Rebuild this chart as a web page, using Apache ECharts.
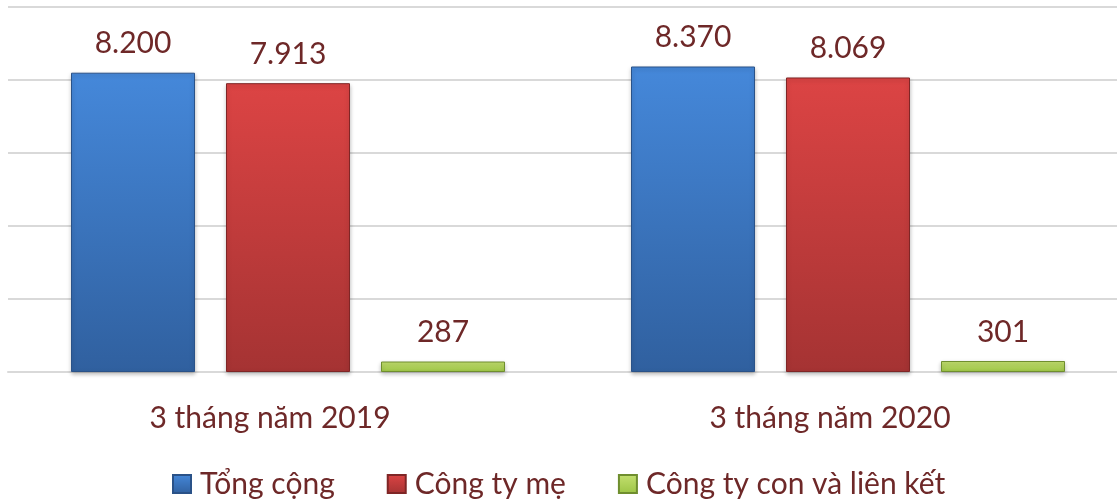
<!DOCTYPE html>
<html><head><meta charset="utf-8">
<script src="https://cdn.jsdelivr.net/npm/echarts@6/dist/echarts.min.js"></script>
<style>html,body{margin:0;padding:0;background:#fff}#c{width:1117px;height:502px}</style>
</head><body><div id="c"></div>
<script>
const categories = ["3 tháng năm 2019", "3 tháng năm 2020"];
const seriesNames = ["Tổng cộng", "Công ty mẹ", "Công ty con và liên kết"];
const tongCong = [8200, 8370];
const congTyMe = [7913, 8069];
const congTyCon = [287, 301];
const yTicks = [0, 2000, 4000, 6000, 8000, 10000];

const TXT = '#6e2828';
const FONT = 'Lato';
function grad(top, bottom){
  return new echarts.graphic.LinearGradient(0,0,0,1,[{offset:0,color:top},{offset:1,color:bottom}]);
}
const styles = [
  {color: grad('#4588da','#30609f'), borderColor:'#2a5288'},
  {color: grad('#dc4444','#a53333'), borderColor:'#7f2626'},
  {color: grad('#c4e070','#9cc445'), borderColor:'#6f8e2e'}
];
const dataSets = [tongCong, congTyMe, congTyCon];
function fmt(v){ return v >= 1000 ? (Math.floor(v/1000) + '.' + String(v%1000).padStart(3,'0')) : String(v); }

const chart = echarts.init(document.getElementById('c'));
chart.setOption({
  animation:false,
  textStyle:{fontFamily:FONT},
  grid:{left:8, width:1120, top:7, height:365, containLabel:false, outerBoundsMode:'none'},
  legend:{
    data: seriesNames, left:167, top:464,
    itemWidth:18, itemHeight:18, itemGap:52, icon:'rect',
    textStyle:{fontSize:30, color:TXT, fontFamily:FONT, padding:[0,0,0,4]}
  },
  xAxis:{
    type:'category', data:categories,
    axisLine:{lineStyle:{color:'#d9d9d9', width:2}},
    axisTick:{show:false},
    axisLabel:{fontSize:30, color:TXT, margin:31, fontFamily:FONT, padding:[0,36,0,0]}
  },
  yAxis:{
    type:'value', min:yTicks[0], max:yTicks[yTicks.length-1], interval:2000,
    axisLabel:{show:false}, axisLine:{show:false}, axisTick:{show:false},
    splitLine:{lineStyle:{color:'#d9d9d9', width:2}}
  },
  series: seriesNames.map((n,i)=>({
    name:n, type:'bar', data:dataSets[i], barWidth:124, barGap:'25%',
    itemStyle:Object.assign({borderWidth:1, shadowColor:'rgba(0,0,0,0.25)', shadowBlur:4, shadowOffsetY:2}, styles[i]),
    label:{show:true, position:'top', distance:14, fontSize:30, color:TXT, fontFamily:FONT,
      formatter:p=>fmt(p.value)}
  }))
});
</script></body></html>
